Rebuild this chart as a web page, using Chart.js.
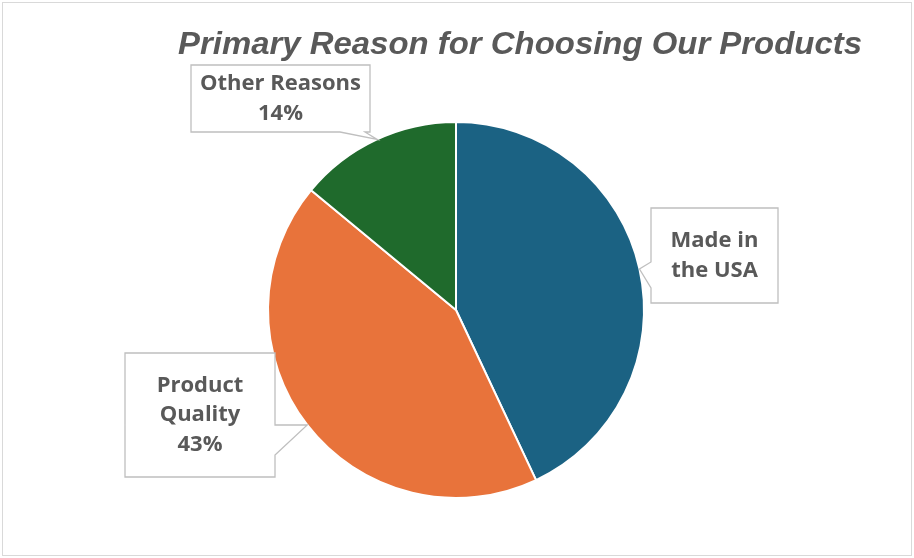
<!DOCTYPE html>
<html>
<head>
<meta charset="utf-8">
<script src="https://cdn.jsdelivr.net/npm/chart.js@4.4.0/dist/chart.umd.min.js"></script>
<style>
  html, body { margin: 0; padding: 0; background: #fff; }
  #wrap { width: 914px; height: 558px; position: relative; }
</style>
</head>
<body>
<div id="wrap"><canvas id="myChart"></canvas></div>
<script>
const categories = ["Made in the USA", "Product Quality", "Other Reasons"];
const shares = [43, 43, 14];
const colors = ["#1B6283", "#E8733B", "#1F6A2C"];
const titleText = "Primary Reason for Choosing Our Products";

// callout boxes: label lines, box, side the pointer leaves from, pointer base, tip angle (deg clockwise from top)
const callouts = [
  { lines: ["Made in", "the USA"], showPct: false, box: [651, 208, 127, 95], side: "left", base: [262, 288], tip: 77.4 },
  { lines: ["Product", "Quality"], showPct: true, box: [125, 353, 150, 124], side: "right", base: [425, 455], tip: 232.3 },
  { lines: ["Other Reasons"], showPct: true, box: [191, 65, 179, 67], side: "bottom", base: [340, 365], tip: 335.2 }
];

const decorPlugin = {
  id: "decor",
  beforeDraw(chart) {
    const ctx = chart.ctx;
    ctx.save();
    ctx.fillStyle = "#fff";
    ctx.fillRect(0, 0, chart.width, chart.height);
    ctx.strokeStyle = "#d9d9d9";
    ctx.lineWidth = 1;
    ctx.strokeRect(2.5, 2.5, chart.width - 5, chart.height - 5);
    ctx.restore();
  },
  afterDraw(chart) {
    const ctx = chart.ctx;
    const arc = chart.getDatasetMeta(0).data[0];
    const cx = arc.x, cy = arc.y, r = arc.outerRadius;
    const total = shares.reduce((a, b) => a + b, 0);
    ctx.save();

    // title, fitted to the width it takes in the original
    ctx.font = 'italic bold 31px "Liberation Sans", sans-serif';
    const w = ctx.measureText(titleText).width;
    ctx.fillStyle = "#595959";
    ctx.textAlign = "left";
    ctx.textBaseline = "alphabetic";
    ctx.save();
    ctx.translate(178, 54);
    ctx.scale(684 / w, 1);
    ctx.fillText(titleText, 0, 0);
    ctx.restore();

    // callouts
    callouts.forEach((c, i) => {
      const [bx, by, bw, bh] = c.box;
      const a = c.tip * Math.PI / 180;
      const tx = cx + r * Math.sin(a), ty = cy - r * Math.cos(a);
      ctx.beginPath();
      ctx.moveTo(bx, by);
      if (c.side === "bottom") {
        ctx.lineTo(bx + bw, by);
        ctx.lineTo(bx + bw, by + bh);
        ctx.lineTo(c.base[1], by + bh);
        ctx.lineTo(tx, ty);
        ctx.lineTo(c.base[0], by + bh);
        ctx.lineTo(bx, by + bh);
      } else if (c.side === "right") {
        ctx.lineTo(bx + bw, by);
        ctx.lineTo(bx + bw, c.base[0]);
        ctx.lineTo(tx, ty);
        ctx.lineTo(bx + bw, c.base[1]);
        ctx.lineTo(bx + bw, by + bh);
        ctx.lineTo(bx, by + bh);
      } else {
        ctx.lineTo(bx + bw, by);
        ctx.lineTo(bx + bw, by + bh);
        ctx.lineTo(bx, by + bh);
        ctx.lineTo(bx, c.base[1]);
        ctx.lineTo(tx, ty);
        ctx.lineTo(bx, c.base[0]);
      }
      ctx.closePath();
      ctx.fillStyle = "#fff";
      ctx.fill();
      ctx.strokeStyle = "#bfbfbf";
      ctx.lineWidth = 1.3;
      ctx.stroke();

      const lines = c.lines.slice();
      if (c.showPct) lines.push(Math.round(shares[i] / total * 100) + "%");
      ctx.font = 'bold 22px "Open Sans", sans-serif';
      ctx.fillStyle = "#595959";
      ctx.textAlign = "center";
      ctx.textBaseline = "middle";
      const lh = 29.5;
      const y0 = by + bh / 2 - (lines.length - 1) * lh / 2;
      lines.forEach((t, k) => ctx.fillText(t, bx + bw / 2, y0 + k * lh));
    });
    ctx.restore();
  }
};

new Chart(document.getElementById("myChart"), {
  type: "pie",
  data: {
    labels: categories,
    datasets: [{
      data: shares,
      backgroundColor: colors,
      borderColor: "#ffffff",
      borderWidth: 2
    }]
  },
  options: {
    responsive: true,
    maintainAspectRatio: false,
    animation: false,
    radius: 188,
    layout: { padding: { top: 122, bottom: 60, left: 20, right: 22 } },
    plugins: {
      legend: { display: false },
      tooltip: { enabled: false },
      title: { display: false }
    }
  },
  plugins: [decorPlugin]
});
</script>
</body>
</html>
